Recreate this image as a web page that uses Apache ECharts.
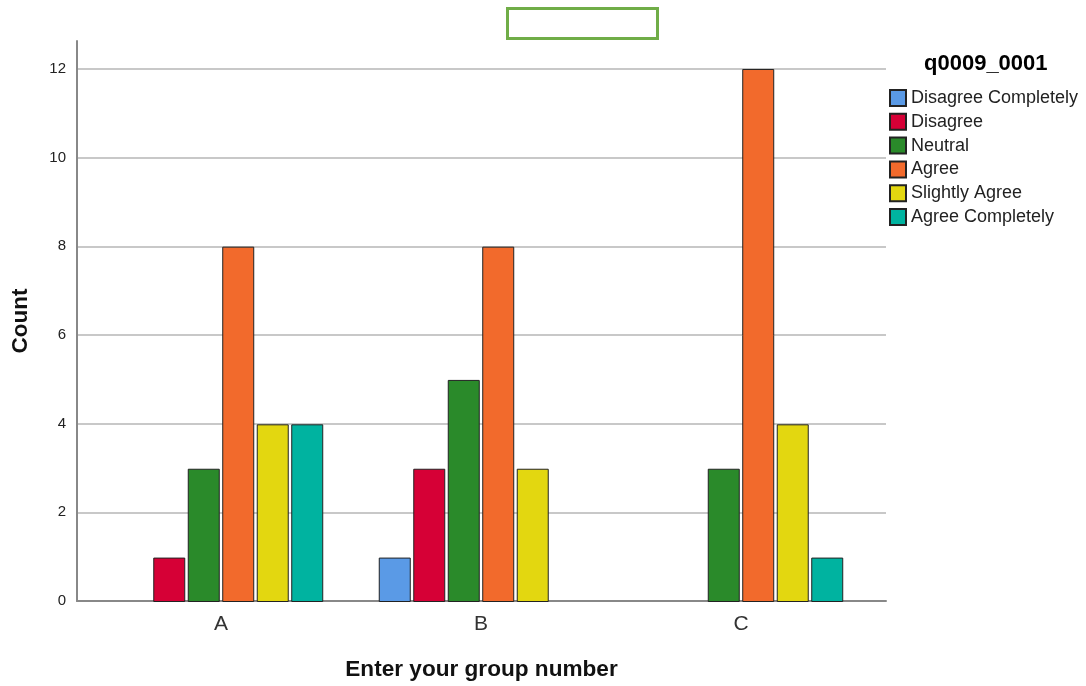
<!DOCTYPE html>
<html>
<head>
<meta charset="utf-8">
<script src="https://cdn.jsdelivr.net/npm/echarts@6/dist/echarts.min.js"></script>
<style>html,body{margin:0;padding:0;background:#fff}#chart{width:1086px;height:686px}</style>
</head>
<body>
<div id="chart"></div>
<script>
var categories = ['A', 'B', 'C'];
var seriesNames = ['Disagree Completely', 'Disagree', 'Neutral', 'Agree', 'Slightly Agree', 'Agree Completely'];
var disagreeCompletely = [null, 1, null];
var disagree = [1, 3, null];
var neutral = [3, 5, 3];
var agree = [8, 8, 12];
var slightlyAgree = [4, 3, 4];
var agreeCompletely = [4, null, 1];
var yTicks = [0, 2, 4, 6, 8, 10, 12];
var colors = ['#5A9AE6', '#D60036', '#2A8A2A', '#F26A2C', '#E3D710', '#00B3A0'];

var values = [disagreeCompletely, disagree, neutral, agree, slightlyAgree, agreeCompletely];
var yMax = 12.63;
var font = 'Liberation Sans, Arial, sans-serif';

var chart = echarts.init(document.getElementById('chart'), null, {renderer: 'canvas'});
var series = seriesNames.map(function (n, i) {
  return {
    name: n, type: 'bar', xAxisIndex: 1, yAxisIndex: 1,
    data: values[i], barWidth: 32, barGap: '7.8%',
    itemStyle: {color: colors[i], borderColor: '#222', borderWidth: 1}
  };
});
chart.setOption({
  animation: false,
  color: colors,
  textStyle: {fontFamily: font},
  title: {text: 'q0009_0001', left: 919, top: 48, textStyle: {fontFamily: font, fontWeight: 'bold', fontSize: 22, color: '#000'}},
  legend: {
    orient: 'vertical', left: 884, top: 84, itemWidth: 16, itemHeight: 16, itemGap: 5.8,
    selectedMode: false, icon: 'rect', data: seriesNames,
    textStyle: {fontFamily: font, fontSize: 18, lineHeight: 16, color: '#222'}
  },
  graphic: [{type: 'rect', shape: {x: 507.5, y: 8.5, width: 150, height: 30}, style: {fill: 'none', stroke: '#70AD47', lineWidth: 3}}],
  grid: [
    {left: 77, right: 200, top: 41, bottom: 84},
    {left: 91, right: 215, top: 41, bottom: 84}
  ],
  xAxis: [
    {type: 'category', gridIndex: 0, data: categories, axisLine: {lineStyle: {color: '#888', width: 2}}, axisTick: {show: false}, axisLabel: {show: false},
     name: 'Enter your group number', nameLocation: 'middle', nameGap: 57, nameTextStyle: {fontFamily: font, fontWeight: 'bold', fontSize: 22.6, color: '#111'}},
    {type: 'category', gridIndex: 1, data: categories, axisLine: {show: false}, axisTick: {show: false},
     axisLabel: {margin: 12, fontFamily: font, fontSize: 21, color: '#333'}}
  ],
  yAxis: [
    {type: 'value', gridIndex: 0, min: 0, max: yMax, interval: 2,
     axisLine: {show: true, lineStyle: {color: '#888', width: 2}}, axisTick: {show: false},
     axisLabel: {margin: 11, fontFamily: font, fontSize: 15, color: '#222', showMaxLabel: false,
       formatter: function (v) { return yTicks.indexOf(v) >= 0 ? String(v) : ''; }},
     splitLine: {show: true, showMaxLine: false, lineStyle: {color: '#c8c8c8', width: 2}},
     name: 'Count', nameLocation: 'middle', nameGap: 45, nameRotate: 90, nameTextStyle: {fontFamily: font, fontWeight: 'bold', fontSize: 22.5, color: '#111'}},
    {type: 'value', gridIndex: 1, min: 0, max: yMax, interval: 2, show: false, splitLine: {show: false}}
  ],
  series: series
});
</script>
</body>
</html>
